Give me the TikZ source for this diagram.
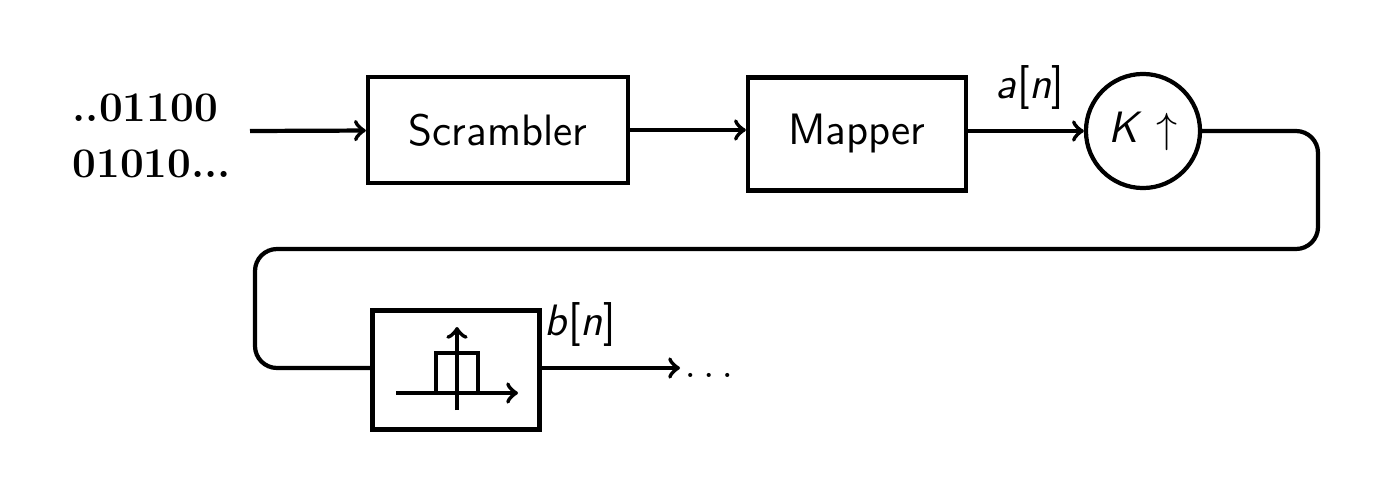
\documentclass[tikz,border=0pt]{standalone}
\usepackage{amsmath}
\tikzset{>=to}
\tikzset{
  blk/.style={draw, line width=1.2pt, inner sep=0pt, font=\sffamily\fontsize{12.5}{14}\selectfont},
  sig/.style={line width=1.2pt, ->},
  lbl/.style={font=\sffamily\fontsize{12.5}{14}\selectfont}
}
\newcommand{\sv}[1]{\textit{#1}}

\begin{document}
\begin{tikzpicture}[x=0.01cm, y=-0.01cm]
  \useasboundingbox (0,0) rectangle (1378,500);

  \node[align=left, anchor=west, inner sep=0pt, font=\bfseries\fontsize{12}{16}\selectfont] (bits) at (72,136) {..01100\\01010...};
  \coordinate (bitsout) at (250,131);

  \node[blk, minimum width=2.6cm, minimum height=1.06cm] (scr) at (498,130) {Scrambler};
  \node[blk, minimum width=2.18cm, minimum height=1.13cm] (map) at (857,134) {Mapper};
  \node[blk, circle, minimum size=1.14cm] (up) at (1143,131) {\sv{K} $\uparrow$};
  \node[blk, minimum width=1.67cm, minimum height=1.19cm] (filt) at (456,370) {};
  \node[lbl, anchor=west, inner sep=0pt] (dots) at (684,375) {$\dots$};

  \node[lbl] (alab) at (1030,88) {\sv{a}[\sv{n}]};
  \node[lbl] (blab) at (580,325) {\sv{b}[\sv{n}]};

  \coordinate (turnR) at (1318,249);
  \coordinate (turnL) at (255,249);

  \draw[sig] (bitsout) -- (scr);
  \draw[sig] (scr) -- (map.west |- scr);
  \draw[sig] (map.east |- up) -- (up);
  \draw[line width=1.2pt, rounded corners=0.22cm] (up.east) -| (turnR) -- (turnL) |- (filt.west |- 0,368);
  \draw[sig] (filt.east |- 0,368) -- (680,368);

  % impulse response icon
  \begin{scope}[shift={(filt.center)}, line width=1.2pt]
    \draw[->] (-60,23) -- (62,23);
    \draw[->] (1,40) -- (1,-43);
    \draw (-20,23) -- (-20,-17) -- (22,-17) -- (22,23);
  \end{scope}
\end{tikzpicture}
\end{document}
